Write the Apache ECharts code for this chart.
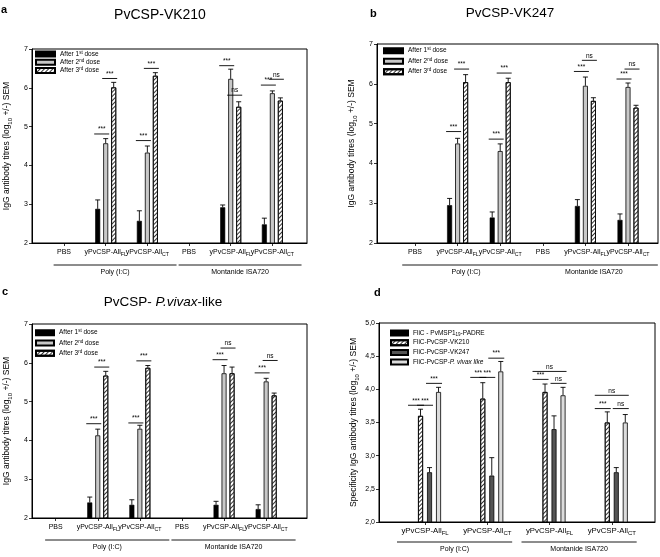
<!DOCTYPE html>
<html><head><meta charset="utf-8">
<script src="https://cdn.jsdelivr.net/npm/echarts@6/dist/echarts.min.js"></script>
<style>html,body{margin:0;padding:0;background:#fff}#c{width:660px;height:557px}</style>
</head><body><div id="c"></div>
<script>
// ---------------- DATA ----------------
const catsABC = ['PBS', 'yPvCSP-All_FL', 'yPvCSP-All_CT', 'PBS', 'yPvCSP-All_FL', 'yPvCSP-All_CT'];
const catsD = ['yPvCSP-All_FL', 'yPvCSP-All_CT', 'yPvCSP-All_FL', 'yPvCSP-All_CT'];
const groupNames = ['Poly (I:C)', 'Montanide ISA720'];
const doseNames = ['After 1st dose', 'After 2nd dose', 'After 3rd dose'];
const doseLabels = ['After 1{sup|st} dose', 'After 2{sup|nd} dose', 'After 3{sup|rd} dose'];
const dNames = ['FliC - PvMSP1-19-PADRE', 'FliC-PvCSP-VK210', 'FliC-PvCSP-VK247', 'FliC-PvCSP-P. vivax like'];
const dLabels = ['FliC - PvMSP1{sub|19}-PADRE', 'FliC-PvCSP-VK210', 'FliC-PvCSP-VK247', 'FliC-PvCSP-{it|P. vivax like}'];
const yTicksABC = ['2', '3', '4', '5', '6', '7'];
const yTicksD = ['2,0', '2,5', '3,0', '3,5', '4,0', '4,5', '5,0'];

// Panel a: PvCSP-VK210 (value, error-bar top)
const a1 = [null, 2.88, 2.57, null, 2.92, 2.48];
const a1e = [null, 3.11, 2.83, null, 2.98, 2.64];
const a2 = [null, 4.57, 4.33, null, 6.23, 5.86];
const a2e = [null, 4.69, 4.50, null, 6.48, 5.92];
const a3 = [null, 6.01, 6.31, null, 5.51, 5.67];
const a3e = [null, 6.14, 6.39, null, 5.64, 5.74];
const aSig = [[1,0,1,4.81,'***'],[1,1,2,6.24,'***'],[2,0,1,4.64,'***'],[2,1,2,6.50,'***'],
              [4,0,1,6.57,'***'],[4,1,2,5.81,'ns'],[5,0,1,6.07,'***'],[5,1,2,6.22,'ns']];

// Panel b: PvCSP-VK247
const b1 = [null, 2.95, 2.64, null, 2.93, 2.58];
const b1e = [null, 3.12, 2.78, null, 3.09, 2.73];
const b2 = [null, 4.50, 4.31, null, 5.95, 5.92];
const b2e = [null, 4.63, 4.49, null, 6.17, 6.02];
const b3 = [null, 6.04, 6.04, null, 5.57, 5.40];
const b3e = [null, 6.23, 6.14, null, 5.65, 5.46];
const bSig = [[1,0,1,4.80,'***'],[1,1,2,6.37,'***'],[2,0,1,4.61,'***'],[2,1,2,6.27,'***'],
              [4,0,1,6.31,'***'],[4,1,2,6.59,'ns'],[5,0,1,6.12,'***'],[5,1,2,6.37,'ns']];

// Panel c: PvCSP-P.vivax-like
const c1 = [null, 2.40, 2.34, null, 2.34, 2.23];
const c1e = [null, 2.54, 2.47, null, 2.43, 2.34];
const c2 = [null, 4.13, 4.30, null, 5.73, 5.52];
const c2e = [null, 4.29, 4.39, null, 5.93, 5.60];
const c3 = [null, 5.67, 5.87, null, 5.73, 5.16];
const c3e = [null, 5.78, 5.93, null, 5.89, 5.22];
const cSig = [[1,0,1,4.43,'***'],[1,1,2,5.89,'***'],[2,0,1,4.45,'***'],[2,1,2,6.05,'***'],
              [4,0,1,6.08,'***'],[4,1,2,6.38,'ns'],[5,0,1,5.74,'***'],[5,1,2,6.06,'ns']];

// Panel d: specificity
const d0 = [null, null, null, null];
const d0e = [null, null, null, null];
const d1 = [3.60, 3.86, 3.96, 3.50];
const d1e = [3.70, 4.10, 4.08, 3.66];
const d2 = [2.75, 2.70, 3.40, 2.75];
const d2e = [2.82, 2.97, 3.60, 2.82];
const d3 = [3.96, 4.27, 3.91, 3.50];
const d3e = [4.03, 4.42, 4.03, 3.62];
const dSig = [[0,0,1,3.76,'***'],[0,1,2,3.76,'***'],[0,2,3,4.09,'***'],
              [1,0,1,4.18,'***'],[1,1,2,4.18,'***'],[1,2,3,4.47,'***'],
              [2,0,1,4.15,'***'],[2,2,3,4.09,'ns'],[2,0,3,4.27,'ns'],
              [3,0,1,3.71,'***'],[3,2,3,3.71,'ns'],[3,0,3,3.91,'ns']];
const groupSpans = [[0, 2], [3, 5]];
const groupSpansD = [[0, 1], [2, 3]];

// ---------------- STYLE / LAYOUT ----------------
const FONT = 'Liberation Sans, Arial, Helvetica, sans-serif';
const hatch = {symbol: 'rect', symbolSize: 1, dashArrayX: [1, 0], dashArrayY: [1, 1.6], rotation: -Math.PI / 4, color: '#333'};
const stBlack = {color: '#000', borderColor: '#000', borderWidth: 0.6};
const stGray = {color: '#c8c8c8', borderColor: '#000', borderWidth: 0.8};
const stHatch = {color: '#fff', borderColor: '#000', borderWidth: 0.8, decal: hatch};
const stDark = {color: '#555', borderColor: '#000', borderWidth: 0.8};
const stLight = {color: '#dcdcdc', borderColor: '#000', borderWidth: 0.8};

const panels = [
  {frame: {left: 32, top: 49, width: 275, height: 194}, bars: {left: 43.2, width: 250},
   cats: catsABC, vals: [[a1, a1e], [a2, a2e], [a3, a3e]], names: doseNames, labels: doseLabels,
   styles: [stBlack, stGray, stHatch], sig: aSig, ymin: 2, ymax: 7, yint: 1, ticks: yTicksABC,
   yname: 'IgG antibody titres (log{sub|10} +/-) SEM', step: 8, gap: '60%',
   legend: {left: 35, top: 50, gap: 0.3, w: 19}, spans: groupSpans, spanPad: [0.25, 0.7], xfs: 7},
  {frame: {left: 377, top: 44, width: 281, height: 199}, bars: {left: 393.7, width: 255.6},
   cats: catsABC, vals: [[b1, b1e], [b2, b2e], [b3, b3e]], names: doseNames, labels: doseLabels,
   styles: [stBlack, stGray, stHatch], sig: bSig, ymin: 2, ymax: 7, yint: 1, ticks: yTicksABC,
   yname: 'IgG antibody titres (log{sub|10} +/-) SEM', step: 8, gap: '60%',
   legend: {left: 383, top: 46.7, gap: 2.5, w: 19}, spans: groupSpans, spanPad: [0.3, 0.7], xfs: 7},
  {frame: {left: 32, top: 324, width: 275, height: 194}, bars: {left: 34.6, width: 252.6},
   cats: catsABC, vals: [[c1, c1e], [c2, c2e], [c3, c3e]], names: doseNames, labels: doseLabels,
   styles: [stBlack, stGray, stHatch], sig: cSig, ymin: 2, ymax: 7, yint: 1, ticks: yTicksABC,
   yname: 'IgG antibody titres (log{sub|10} +/-) SEM', step: 8, gap: '60%',
   legend: {left: 35, top: 328.7, gap: 2.3, w: 18}, spans: groupSpans, spanPad: [0.25, 0.7], xfs: 7},
  {frame: {left: 379, top: 323, width: 276, height: 199}, bars: {left: 393.9, width: 249},
   cats: catsD, vals: [[d0, d0e], [d1, d1e], [d2, d2e], [d3, d3e]], names: dNames, labels: dLabels,
   styles: [stBlack, stHatch, stDark, stLight], sig: dSig, ymin: 2, ymax: 5, yint: 0.5, ticks: yTicksD,
   yname: 'Specificity IgG antibody titres (log{sub|10} +/-) SEM', step: 9, gap: '80%',
   legend: {left: 390, top: 329, gap: 1.7, w: 17}, spans: groupSpansD, spanPad: [0.45, 0.4], xfs: 7.8}
];

const grid = [], xAxis = [], yAxis = [], series = [], legend = [];
const BW = 5;

panels.forEach((p, pi) => {
  const fi = pi * 2, bi = pi * 2 + 1;
  grid.push({left: p.frame.left, top: p.frame.top, width: p.frame.width, height: p.frame.height,
             show: true, borderColor: '#000', borderWidth: 1, backgroundColor: 'transparent',
             containLabel: false, outerBoundsMode: 'none'});
  grid.push({left: p.bars.left, top: p.frame.top, width: p.bars.width, height: p.frame.height,
             containLabel: false, outerBoundsMode: 'none'});
  xAxis.push({type: 'value', gridIndex: fi, min: 0, max: 1, axisLine: {show: true, lineStyle: {color: '#000', width: 1}},
              axisTick: {show: false}, axisLabel: {show: false}, splitLine: {show: false}});
  xAxis.push({type: 'category', gridIndex: bi, data: p.cats, axisLine: {show: false},
              axisTick: {show: true, alignWithLabel: true, length: 3, lineStyle: {color: '#000', width: 0.8}},
              axisLabel: {interval: 0, hideOverlap: false, margin: 4, color: '#000', fontSize: p.xfs, fontFamily: FONT, lineHeight: 10,
                          formatter: s => s.replace(/_(\w+)/, '{sub|$1}'),
                          rich: {sub: {fontSize: p.xfs - 1.8, lineHeight: 10, verticalAlign: 'bottom', fontFamily: FONT, color: '#000'}}},
              splitLine: {show: false}});
  yAxis.push({type: 'value', gridIndex: fi, min: p.ymin, max: p.ymax, interval: p.yint,
              axisLine: {show: true, lineStyle: {color: '#000', width: 1}},
              axisTick: {show: true, length: 3, lineStyle: {color: '#000', width: 0.8}},
              axisLabel: {fontSize: 7, color: '#000', fontFamily: FONT, margin: 4,
                          formatter: v => p.ticks[Math.round((v - p.ymin) / p.yint)]},
              splitLine: {show: false},
              name: p.yname, nameLocation: 'middle', nameGap: 19,
              nameTextStyle: {fontSize: 8.5, color: '#000', fontFamily: FONT, lineHeight: 12,
                              rich: {sub: {fontSize: 6, lineHeight: 12, verticalAlign: 'bottom', color: '#000', fontFamily: FONT}}}});
  yAxis.push({type: 'value', gridIndex: bi, min: p.ymin, max: p.ymax, show: false});

  const n = p.vals.length, mid = (n - 1) / 2;
  p.vals.forEach((pair, k) => {
    series.push({type: 'bar', name: p.names[k], xAxisIndex: bi, yAxisIndex: bi, barWidth: BW, barGap: p.gap,
                 data: pair[0], itemStyle: p.styles[k], silent: true, z: 2});
  });
  // error bars
  const errData = [];
  p.vals.forEach((pair, k) => {
    pair[0].forEach((v, i) => { if (v != null && pair[1][i] != null) errData.push([i, v, pair[1][i], k]); });
  });
  series.push({type: 'custom', xAxisIndex: bi, yAxisIndex: bi, data: errData, silent: true, z: 3,
    renderItem: (params, api) => {
      const base = api.coord([api.value(0), api.value(1)]);
      const top = api.coord([api.value(0), api.value(2)]);
      const x = base[0] + (api.value(3) - mid) * p.step;
      return {type: 'group', children: [
        {type: 'line', shape: {x1: x, y1: base[1], x2: x, y2: top[1]}, style: {stroke: '#000', lineWidth: 0.9}},
        {type: 'line', shape: {x1: x - 2.5, y1: top[1], x2: x + 2.5, y2: top[1]}, style: {stroke: '#000', lineWidth: 0.9}}
      ]};
    }});
  // significance annotations
  series.push({type: 'custom', xAxisIndex: bi, yAxisIndex: bi, silent: true, z: 4,
    data: p.sig.map(s => [s[0], s[3], s[1], s[2]]),
    renderItem: (params, api) => {
      const c = api.coord([api.value(0), api.value(1)]);
      const x0 = c[0] + (api.value(2) - mid) * p.step - BW / 2 - 1;
      const x1 = c[0] + (api.value(3) - mid) * p.step + BW / 2 + 1;
      return {type: 'group', children: [
        {type: 'line', shape: {x1: x0, y1: c[1], x2: x1, y2: c[1]}, style: {stroke: '#000', lineWidth: 0.9}},
        {type: 'text', x: (x0 + x1) / 2, y: c[1] - 1,
         style: {text: p.sig[params.dataIndex][4], fontSize: 6.5, fontFamily: FONT, fill: '#000', align: 'center', verticalAlign: 'bottom'}}
      ]};
    }});
  // group brackets below axis
  series.push({type: 'custom', xAxisIndex: bi, yAxisIndex: bi, silent: true, z: 4,
    data: p.spans.map(s => [s[0], s[1]]),
    renderItem: (params, api) => {
      const band = api.size([1, 0])[0];
      const a = api.coord([api.value(0), p.ymin]);
      const b = api.coord([api.value(1), p.ymin]);
      const x0 = a[0] - p.spanPad[0] * band, x1 = b[0] + p.spanPad[1] * band;
      const y = a[1] + (pi === 3 ? 20 : 22);
      return {type: 'group', children: [
        {type: 'line', shape: {x1: x0, y1: y, x2: x1, y2: y}, style: {stroke: '#000', lineWidth: 0.9}},
        {type: 'text', x: (x0 + x1) / 2, y: y + 4,
         style: {text: groupNames[params.dataIndex], fontSize: 7, fontFamily: FONT, fill: '#000', align: 'center', verticalAlign: 'top'}}
      ]};
    }});

  legend.push({data: p.names, orient: 'vertical', left: p.legend.left, top: p.legend.top, itemWidth: p.legend.w, itemHeight: 5,
    itemGap: p.legend.gap, icon: 'rect', selectedMode: false, padding: 0,
    formatter: name => p.labels[p.names.indexOf(name)],
    textStyle: {fontSize: 6.5, color: '#000', fontFamily: FONT, lineHeight: 8,
      rich: {sup: {fontSize: 4.5, lineHeight: 8, verticalAlign: 'top', color: '#000', fontFamily: FONT},
             sub: {fontSize: 4.5, lineHeight: 8, verticalAlign: 'bottom', color: '#000', fontFamily: FONT},
             it: {fontSize: 6.5, fontStyle: 'italic', color: '#000', fontFamily: FONT}}}});
});

const graphic = [
  {type: 'text', x: 1, y: 4, style: {text: 'a', fontSize: 11, fontWeight: 'bold', fontFamily: FONT, fill: '#000'}},
  {type: 'text', x: 370, y: 8, style: {text: 'b', fontSize: 11, fontWeight: 'bold', fontFamily: FONT, fill: '#000'}},
  {type: 'text', x: 2, y: 286, style: {text: 'c', fontSize: 11, fontWeight: 'bold', fontFamily: FONT, fill: '#000'}},
  {type: 'text', x: 374, y: 287, style: {text: 'd', fontSize: 11, fontWeight: 'bold', fontFamily: FONT, fill: '#000'}},
  {type: 'text', x: 160, y: 15, style: {text: 'PvCSP-VK210', fontSize: 14, fontFamily: FONT, fill: '#000', align: 'center', verticalAlign: 'middle'}},
  {type: 'text', x: 510, y: 13, style: {text: 'PvCSP-VK247', fontSize: 13.5, fontFamily: FONT, fill: '#000', align: 'center', verticalAlign: 'middle'}},
  {type: 'text', x: 163, y: 302, style: {text: 'PvCSP- {it|P.vivax}-like', fontSize: 13.5, fontFamily: FONT, fill: '#000', align: 'center', verticalAlign: 'middle',
     rich: {it: {fontSize: 13.5, fontStyle: 'italic', fontFamily: FONT, fill: '#000'}}}}
];

const chart = echarts.init(document.getElementById('c'), null, {renderer: 'canvas'});
chart.setOption({animation: false, backgroundColor: '#fff', textStyle: {fontFamily: FONT},
  grid, xAxis, yAxis, series, legend, graphic});
</script></body></html>
